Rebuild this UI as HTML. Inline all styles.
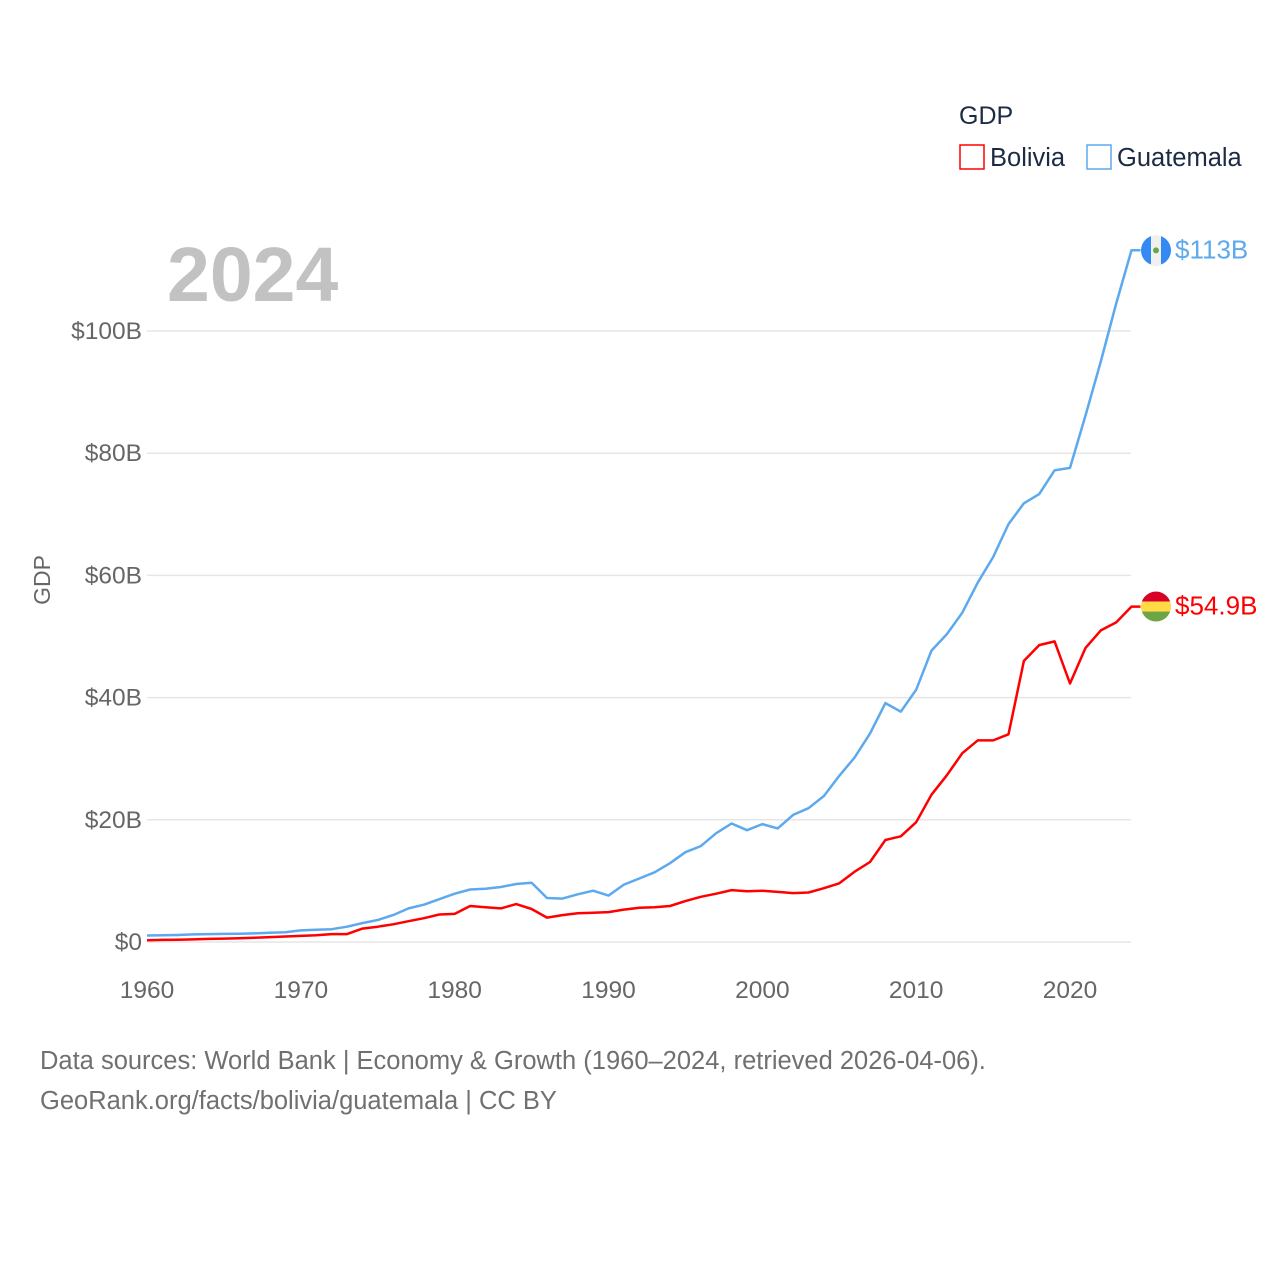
<!DOCTYPE html>
<html><head><meta charset="utf-8"><style>
body{margin:0;background:#fff;font-family:"Liberation Sans",sans-serif;}
svg text{font-family:"Liberation Sans",sans-serif;}
</style></head><body>
<svg width="1280" height="1280" viewBox="0 0 1280 1280" xmlns="http://www.w3.org/2000/svg">
<g id="grid"></g>
<g id="yt"></g>
<g id="xt"></g>
<text x="167" y="301" font-size="77" font-weight="bold" fill="#c2c2c2">2024</text>
<text transform="translate(50,580) rotate(-90)" text-anchor="middle" font-size="23" fill="#666">GDP</text>
<g>
<text x="959" y="124" font-size="25" fill="#1c2b45">GDP</text>
<rect x="960" y="145" width="24" height="24" fill="none" stroke="#ff0000" stroke-width="1.5"/>
<text x="990" y="166" font-size="25.5" fill="#1c2b45">Bolivia</text>
<rect x="1087" y="145" width="24" height="24" fill="none" stroke="#5da9ee" stroke-width="1.5"/>
<text x="1117" y="166" font-size="25.5" fill="#1c2b45">Guatemala</text>
</g>
<path id="lg" fill="none" stroke="#5da9ee" stroke-width="2.5" stroke-linejoin="round"/>
<path id="lb" fill="none" stroke="#ff0000" stroke-width="2.5" stroke-linejoin="round"/>
<g id="endg"></g>
<g id="endb"></g>
<text x="40" y="1069" font-size="25.5" fill="#707070">Data sources: World Bank | Economy &amp; Growth (1960–2024, retrieved 2026-04-06).</text>
<text x="40" y="1109" font-size="25.5" fill="#707070">GeoRank.org/facts/bolivia/guatemala | CC BY</text>
</svg>
<script>
const years=[];for(let y=1960;y<=2024;y++)years.push(y);
const guatemala=[1.06,1.1,1.15,1.25,1.3,1.33,1.36,1.4,1.5,1.6,1.9,2.0,2.1,2.5,3.1,3.6,4.4,5.5,6.1,7.0,7.9,8.6,8.7,9.0,9.5,9.7,7.2,7.1,7.8,8.4,7.6,9.4,10.4,11.4,12.9,14.7,15.7,17.8,19.4,18.3,19.3,18.6,20.8,21.9,23.9,27.2,30.2,34.1,39.1,37.7,41.3,47.7,50.4,53.9,58.8,63.0,68.4,71.8,73.3,77.2,77.6,86.1,95.0,104.5,113.2];
const bolivia=[0.3,0.35,0.38,0.43,0.5,0.56,0.63,0.7,0.8,0.9,1.0,1.1,1.3,1.3,2.2,2.5,2.9,3.4,3.9,4.5,4.6,5.9,5.7,5.5,6.2,5.4,4.0,4.4,4.7,4.8,4.9,5.3,5.6,5.7,5.9,6.7,7.4,7.9,8.5,8.3,8.4,8.2,8.0,8.1,8.8,9.6,11.5,13.1,16.7,17.3,19.6,24.1,27.3,30.9,33.0,33.0,34.0,46.0,48.6,49.2,42.3,48.1,51.0,52.3,54.9];
const yTicks=[0,20,40,60,80,100];
const yTickLabels=["$0","$20B","$40B","$60B","$80B","$100B"];
const xTicks=[1960,1970,1980,1990,2000,2010,2020];
const endLabels=["$113B","$54.9B"];
const NS="http://www.w3.org/2000/svg";
const X=y=>147+(y-1960)*(1070-147)/60;
const Y=v=>942-v*6.11;
function el(t,a,p){const e=document.createElementNS(NS,t);for(const k in a)e.setAttribute(k,a[k]);p.appendChild(e);return e;}
const grid=document.getElementById('grid'),yt=document.getElementById('yt'),xt=document.getElementById('xt');
yTicks.forEach((v,i)=>{
 const l=el('line',{x1:147,x2:1131,y1:Y(v),y2:Y(v),stroke:'#e6e6e6','stroke-width':1.5},grid);
 
 
 const t=el('text',{x:142,y:Y(v)+8,'text-anchor':'end','font-size':24.5,fill:'#666'},yt);
 t.textContent=yTickLabels[i];
 
 
});
xTicks.forEach(v=>{
 const t=el('text',{x:X(v),y:998,'text-anchor':'middle','font-size':24.5,fill:'#666'},xt);
 t.textContent=v;
 
 
});
const path=a=>a.map((v,i)=>(i?'L':'M')+X(years[i]).toFixed(1)+','+Y(v).toFixed(1)).join('')+'h9';
document.getElementById('lg').setAttribute('d',path(guatemala));
document.getElementById('lb').setAttribute('d',path(bolivia));
function endLabel(g,v,txt,col,flag){
 const cy=Y(v),cx=1156;
 if(flag==='gt'){
  el('circle',{cx,cy,r:15,fill:'#338af3'},g);
  el('rect',{x:cx-5,y:cy-15,width:10,height:30,fill:'#f0f0f0'},g);
  el('circle',{cx,cy,r:3,fill:'#6da544'},g);
 }else{
  const cp=el('clipPath',{id:'cb'},g);el('circle',{cx,cy,r:15},cp);
  el('rect',{x:cx-15,y:cy-15,width:30,height:10,fill:'#d80027','clip-path':'url(#cb)'},g);
  el('rect',{x:cx-15,y:cy-5,width:30,height:10,fill:'#ffda44','clip-path':'url(#cb)'},g);
  el('rect',{x:cx-15,y:cy+5,width:30,height:10,fill:'#6da544','clip-path':'url(#cb)'},g);
 }
 const t=el('text',{x:1175,y:cy+8,'font-size':26,fill:col},g);
 t.textContent=txt;
 
 
}
endLabel(document.getElementById('endg'),guatemala[guatemala.length-1],endLabels[0],'#5da9ee','gt');
endLabel(document.getElementById('endb'),bolivia[bolivia.length-1],endLabels[1],'#ff0000','bo');
</script>
</body></html>
